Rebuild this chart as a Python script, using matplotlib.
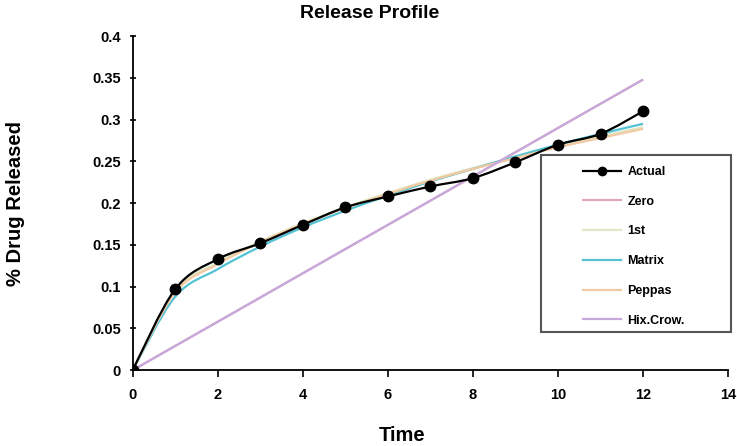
import numpy as np
import matplotlib
matplotlib.use('Agg')
import matplotlib.pyplot as plt
from matplotlib.path import Path
from matplotlib.patches import PathPatch, Rectangle
from matplotlib.lines import Line2D

plt.rcParams['font.family'] = ['Liberation Sans', 'DejaVu Sans']
plt.rcParams['font.weight'] = 'bold'

time = [0, 1, 2, 3, 4, 5, 6, 7, 8, 9, 10, 11, 12]
actual = [0, 0.097, 0.133, 0.152, 0.174, 0.195, 0.208, 0.220, 0.230, 0.249, 0.270, 0.283, 0.310]
zero = [0, 0.029, 0.058, 0.087, 0.116, 0.145, 0.174, 0.203, 0.232, 0.261, 0.290, 0.319, 0.348]
first = [0, 0.095, 0.129, 0.154, 0.176, 0.195, 0.212, 0.228, 0.242, 0.255, 0.268, 0.280, 0.291]
matrix = [0, 0.088, 0.121, 0.148, 0.171, 0.191, 0.209, 0.226, 0.241, 0.256, 0.270, 0.283, 0.295]
peppas = [0, 0.093, 0.127, 0.153, 0.175, 0.194, 0.211, 0.227, 0.241, 0.254, 0.267, 0.278, 0.289]
hix_crow = [0, 0.029, 0.058, 0.087, 0.116, 0.145, 0.174, 0.203, 0.232, 0.261, 0.290, 0.319, 0.348]

series = [
    ('Zero', zero, '#e0a8b8'),
    ('1st', first, '#dfe8c8'),
    ('Matrix', matrix, '#52c2d4'),
    ('Peppas', peppas, '#f2c9a0'),
    ('Hix.Crow.', hix_crow, '#c8a8dc'),
]


def smooth_path(xs, ys):
    # catmull-rom style bezier, like excel smoothed lines
    xs = np.asarray(xs, float)
    ys = np.asarray(ys, float)
    verts = [(xs[0], ys[0])]
    codes = [Path.MOVETO]
    n = len(xs)
    for i in range(n - 1):
        p0 = (xs[max(i - 1, 0)], ys[max(i - 1, 0)])
        p1 = (xs[i], ys[i])
        p2 = (xs[i + 1], ys[i + 1])
        p3 = (xs[min(i + 2, n - 1)], ys[min(i + 2, n - 1)])
        c1 = (p1[0] + (p2[0] - p0[0]) / 6, p1[1] + (p2[1] - p0[1]) / 6)
        c2 = (p2[0] - (p3[0] - p1[0]) / 6, p2[1] - (p3[1] - p1[1]) / 6)
        verts += [c1, c2, p2]
        codes += [Path.CURVE4] * 3
    return Path(verts, codes)


fig = plt.figure(figsize=(7.37, 4.46), dpi=100)
ax = fig.add_axes([0.180, 0.170, 0.808, 0.749])

handles = []
for name, vals, col in series:
    ax.add_patch(PathPatch(smooth_path(time, vals), facecolor='none', edgecolor=col, lw=1.6))
    handles.append(Line2D([], [], color=col, lw=1.6, label=name))

ax.add_patch(PathPatch(smooth_path(time, actual), facecolor='none', edgecolor='black', lw=1.6, zorder=4))
ax.plot(time, actual, 'o', color='black', ms=7.5, zorder=5)
h_act = Line2D([], [], color='black', lw=1.6, marker='o', ms=6, label='Actual')
handles.insert(0, h_act)

ax.set_xlim(0, 14)
ax.set_ylim(0, 0.4)
ax.set_xticks(range(0, 15, 2))
ax.set_yticks([0, 0.05, 0.1, 0.15, 0.2, 0.25, 0.3, 0.35, 0.4])
ax.set_yticklabels(['0', '0.05', '0.1', '0.15', '0.2', '0.25', '0.3', '0.35', '0.4'])
ax.tick_params(axis='both', labelsize=10.5, width=1.2, length=5)
ax.tick_params(axis='x', pad=8)
ax.tick_params(axis='y', direction='inout', pad=6)
for s in ['top', 'right']:
    ax.spines[s].set_visible(False)
for s in ['left', 'bottom']:
    ax.spines[s].set_linewidth(1.3)

fig.text(370 / 737, 1 - 14 / 446, 'Release Profile', fontsize=14, fontweight='bold',
         ha='center', va='center')
ax.set_xlabel('Time', fontsize=14.5, fontweight='bold')
ax.xaxis.label.set_va('center')
ax.xaxis.set_label_coords(0.452, -0.195)
ax.set_ylabel('% Drug Released', fontsize=14.5, fontweight='bold')
ax.yaxis.label.set_va('center')
ax.yaxis.set_label_coords(-0.197, 0.5)

# legend frame drawn by hand, entries placed inside it
ax.add_patch(Rectangle((541 / 737, 1 - 332 / 446), 190 / 737, 177 / 446, transform=fig.transFigure,
                       facecolor='white', edgecolor='#555555', lw=1.5, zorder=6, clip_on=False))
leg = ax.legend(handles=handles, loc='upper left', bbox_to_anchor=(0.746, 0.630),
                fontsize=9, handlelength=3.0, handletextpad=0.55, labelspacing=1.42,
                frameon=False, borderpad=0.5, borderaxespad=0)
leg.set_zorder(7)

fig.savefig('out.png', dpi=100)
